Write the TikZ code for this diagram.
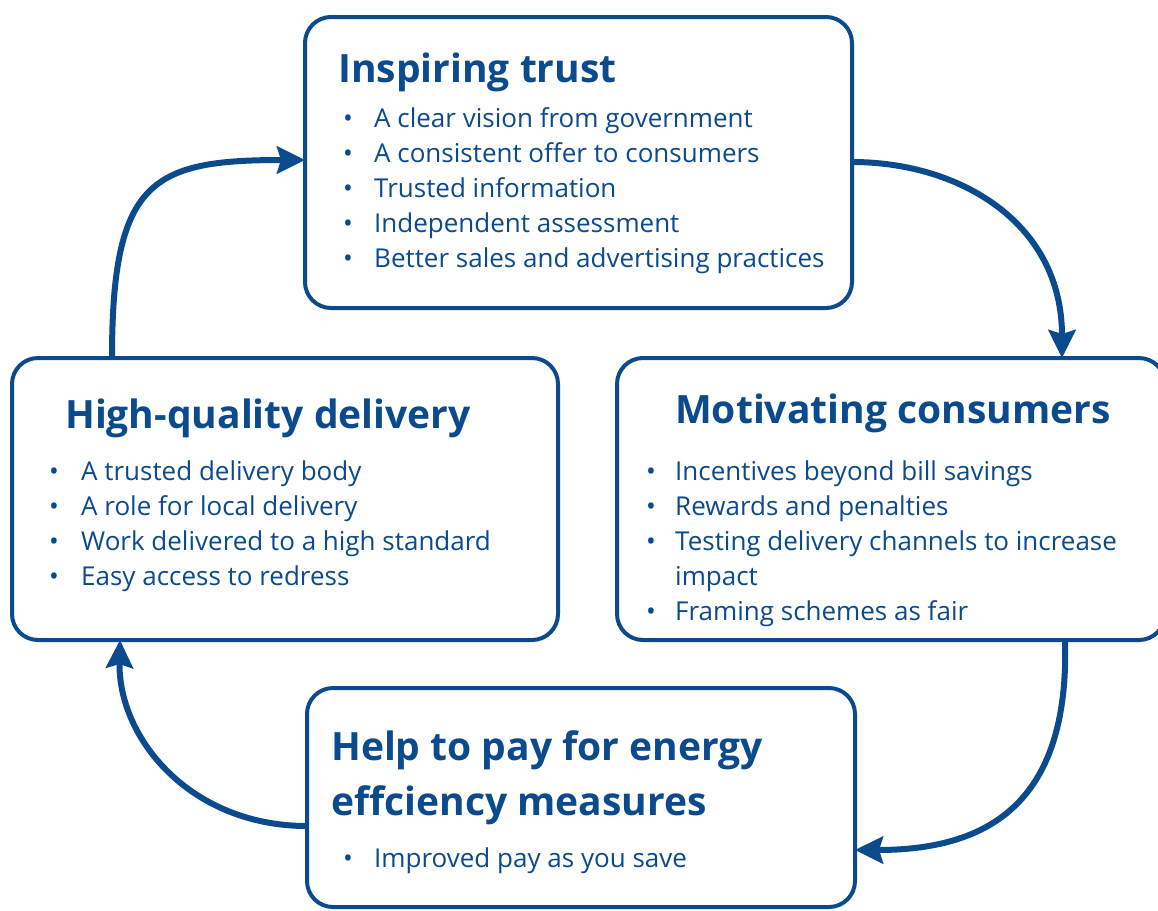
\documentclass[tikz,border=0pt]{standalone}
\usepackage{fontspec}
\setmainfont{Open Sans}
\usetikzlibrary{arrows.meta,calc}
\definecolor{navy}{RGB}{11,74,140}
\tikzset{
  panel/.style={draw=navy, line width=4pt, rounded corners=26pt, fill=white,
    inner sep=0pt, outer sep=0pt, anchor=north west},
  flow/.style={draw=navy, line width=6pt,
    -{Stealth[length=28pt,width=27pt,inset=4pt]}},
  heading/.style={text=navy, font=\bfseries\fontsize{39}{55}\selectfont,
    inner sep=0pt, anchor=base west},
  itemlist/.style={text=navy, font=\fontsize{26}{35}\selectfont,
    inner sep=0pt, anchor=base west},
}
\newcommand{\bul}{\textbullet}
\begin{document}
\begin{tikzpicture}[x=1pt, y=-1pt]
  \useasboundingbox (0,0) rectangle (1158,910);

  % the four panels
  \node[panel, minimum width=547pt, minimum height=291pt] (trust) at (305,17) {};
  \node[panel, minimum width=546pt, minimum height=282pt] (hq) at (12,358) {};
  \node[panel, minimum width=548pt, minimum height=282pt] (motiv) at (617,358) {};
  \node[panel, minimum width=548pt, minimum height=219pt] (help) at (307,688) {};

  % Inspiring trust
  \node[heading] (trustT) at (338,82) {Inspiring trust};
  \node[itemlist] (trustL) at (343,127) {%
    \begin{tabular}[t]{@{}p{31pt}@{}l@{}}
      \bul & A clear vision from government\\
      \bul & A consistent offer to consumers\\
      \bul & Trusted information\\
      \bul & Independent assessment\\
      \bul & Better sales and advertising practices
    \end{tabular}};

  % High-quality delivery
  \node[heading] (hqT) at (65,428) {High-quality delivery};
  \node[itemlist] (hqL) at (49,480) {%
    \begin{tabular}[t]{@{}p{32pt}@{}l@{}}
      \bul & A trusted delivery body\\
      \bul & A role for local delivery\\
      \bul & Work delivered to a high standard\\
      \bul & Easy access to redress
    \end{tabular}};

  % Motivating consumers
  \node[heading] (motivT) at (675,423) {Motivating consumers};
  \node[itemlist] (motivL) at (646,480) {%
    \begin{tabular}[t]{@{}p{29pt}@{}l@{}}
      \bul & Incentives beyond bill savings\\
      \bul & Rewards and penalties\\
      \bul & Testing delivery channels to increase\\
           & impact\\
      \bul & Framing schemes as fair
    \end{tabular}};

  % Help to pay
  \node[heading] (helpT) at (331,760) {Help to pay for energy};
  \node[heading] (helpU) at (331,815) {effciency measures};
  \node[itemlist] (helpL) at (343,867) {%
    \begin{tabular}[t]{@{}p{31pt}@{}l@{}}
      \bul & Improved pay as you save
    \end{tabular}};

  % cycle connectors
  \coordinate (a1s) at ($(hq.north west)+(100,0)$);
  \coordinate (a1e) at ($(trust.north west)+(0,143)$);
  \coordinate (a2s) at ($(trust.north east)+(0,145)$);
  \coordinate (a2e) at ($(motiv.north west)+(445,0)$);
  \coordinate (a3s) at ($(motiv.south west)+(448,0)$);
  \coordinate (a3e) at ($(help.north east)+(0,162)$);
  \coordinate (a4s) at ($(help.north west)+(0,138)$);
  \coordinate (a4e) at ($(hq.south west)+(108,0)$);

  \draw[flow] (a1s) .. controls +(0,-178) and +(-153,0) .. (a1e);
  \draw[flow] (a2s) .. controls +(108,0) and +(0,-135) .. (a2e);
  \draw[flow] (a3s) .. controls +(5,168) and +(128,0) .. (a3e);
  \draw[flow] (a4s) .. controls +(-117,0) and +(-2,98) .. (a4e);
\end{tikzpicture}
\end{document}
